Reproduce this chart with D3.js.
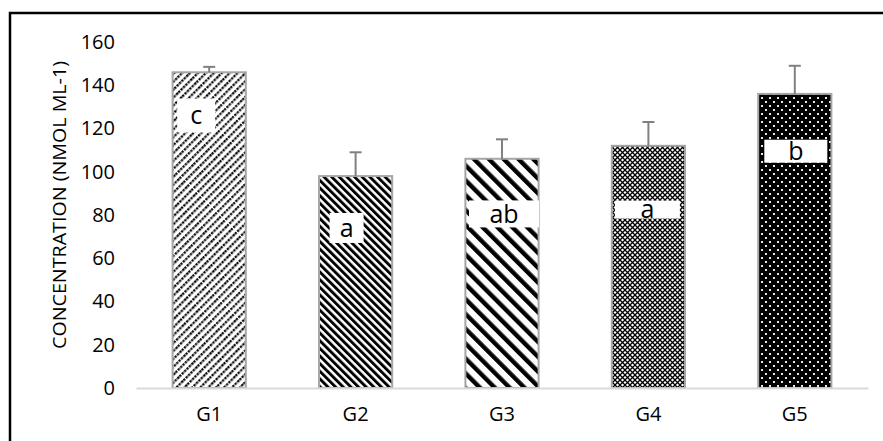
<!DOCTYPE html>
<html>
<head>
<meta charset="utf-8">
<script src="https://cdn.jsdelivr.net/npm/d3@7"></script>
<style>
  html, body { margin: 0; padding: 0; background: #fff; }
  svg { display: block; }
  text { font-family: "Open Sans", "Noto Sans", sans-serif; fill: #000; }
</style>
</head>
<body>
<svg id="chart" width="883" height="441"></svg>
<script>
// Groups and their mean concentrations (nmol/ml) with standard errors
const categories = ["G1", "G2", "G3", "G4", "G5"];
const means = [146, 98, 106, 112, 136];
const errors = [2.5, 11, 9, 11, 13];
// Significance letters and the value at which each letter sits
const letters = ["c", "a", "ab", "a", "b"];
const letterAt = [126, 74, 80.5, 82.5, 109.5];
const yTicks = [0, 20, 40, 60, 80, 100, 120, 140, 160];
const yTitle = "CONCENTRATION (NMOL ML-1)";

// Label box geometry (width, height, horizontal offset from bar centre)
const labelBoxes = [
  { w: 38, h: 34, dx: -13 },
  { w: 34, h: 30, dx: -9 },
  { w: 70, h: 27, dx: 2 },
  { w: 65, h: 18, dx: -1 },
  { w: 63, h: 23, dx: 1 }
];
const patternIds = ["p1", "p2", "p3", "p4", "p5"];

const svg = d3.select("#chart");

// Frame around the whole figure
svg.append("rect")
  .attr("x", 10).attr("y", 13)
  .attr("width", 900).attr("height", 460)
  .attr("fill", "none").attr("stroke", "#000").attr("stroke-width", 2.5);

// Fill patterns
const defs = svg.append("defs");

// G1: dotted upward diagonal
const p1 = defs.append("pattern").attr("id", "p1").attr("patternUnits", "userSpaceOnUse")
  .attr("width", 5.6).attr("height", 20).attr("patternTransform", "rotate(45)");
p1.append("rect").attr("width", 5.6).attr("height", 20).attr("fill", "#fff");
p1.append("line").attr("x1", 1.2).attr("y1", 0).attr("x2", 1.2).attr("y2", 20)
  .attr("stroke", "#000").attr("stroke-width", 2.2).attr("stroke-dasharray", "2.4 1");

// G2: dark downward diagonal
const p2 = defs.append("pattern").attr("id", "p2").attr("patternUnits", "userSpaceOnUse")
  .attr("width", 5.4).attr("height", 10).attr("patternTransform", "rotate(-45)");
p2.append("rect").attr("width", 5.4).attr("height", 10).attr("fill", "#fff");
p2.append("rect").attr("x", 0).attr("width", 2.9).attr("height", 10).attr("fill", "#000");

// G3: wide downward diagonal
const p3 = defs.append("pattern").attr("id", "p3").attr("patternUnits", "userSpaceOnUse")
  .attr("width", 10.5).attr("height", 10).attr("patternTransform", "rotate(-45)");
p3.append("rect").attr("width", 10.5).attr("height", 10).attr("fill", "#fff");
p3.append("rect").attr("x", 0).attr("width", 4.4).attr("height", 10).attr("fill", "#000");

// G4: fine trellis
const p4 = defs.append("pattern").attr("id", "p4").attr("patternUnits", "userSpaceOnUse")
  .attr("width", 5).attr("height", 5);
p4.append("rect").attr("width", 5).attr("height", 5).attr("fill", "#fff");
p4.append("path").attr("d", "M0,0L5,5M5,0L0,5")
  .attr("stroke", "#000").attr("stroke-width", 1.3);

// G5: black with white dots
const p5 = defs.append("pattern").attr("id", "p5").attr("patternUnits", "userSpaceOnUse")
  .attr("width", 8).attr("height", 8);
p5.append("rect").attr("width", 8).attr("height", 8).attr("fill", "#000");
p5.append("rect").attr("x", 1).attr("y", 1).attr("width", 2).attr("height", 2).attr("fill", "#e8e8e8");
p5.append("rect").attr("x", 5).attr("y", 5).attr("width", 2).attr("height", 2).attr("fill", "#e8e8e8");

// Scales
const x = d3.scaleBand().domain(categories).range([136, 868]).paddingInner(0.5).paddingOuter(0.25);
const y = d3.scaleLinear().domain([0, 160]).range([388, 42]);

// Y axis labels
const yAxis = svg.append("g").attr("transform", "translate(121,0)")
  .call(d3.axisLeft(y).tickValues(yTicks).tickSize(0).tickPadding(6));
yAxis.select(".domain").remove();
yAxis.selectAll("text").style("font-family", "'Open Sans', sans-serif").style("font-size", "20px").attr("fill", "#000");

// Y title
svg.append("text")
  .attr("transform", "translate(66,205) rotate(-90)")
  .attr("text-anchor", "middle")
  .attr("font-size", 19)
  .attr("textLength", 288).attr("lengthAdjust", "spacingAndGlyphs")
  .text(yTitle);

const data = categories.map((c, i) => ({ c, v: means[i], e: errors[i], l: letters[i], la: letterAt[i], box: labelBoxes[i], p: patternIds[i] }));

// Bars
svg.append("g").selectAll("rect").data(data).join("rect")
  .attr("x", d => x(d.c)).attr("y", d => y(d.v))
  .attr("width", x.bandwidth()).attr("height", d => y(0) - y(d.v))
  .attr("fill", d => `url(#${d.p})`)
  .attr("stroke", "#a6a6a6").attr("stroke-width", 2);

// X axis baseline and labels
const xAxis = svg.append("g").attr("transform", "translate(0,388)")
  .call(d3.axisBottom(x).tickSize(0).tickPadding(19));
xAxis.select(".domain").attr("stroke", "#d9d9d9").attr("stroke-width", 2);
xAxis.selectAll("text").style("font-family", "'Open Sans', sans-serif").style("font-size", "20px").attr("fill", "#000");

// Error bars (upper side)
const err = svg.append("g").attr("stroke", "#808080").attr("stroke-width", 2);
err.selectAll("line.v").data(data).join("line").attr("class", "v")
  .attr("x1", d => x(d.c) + x.bandwidth() / 2).attr("x2", d => x(d.c) + x.bandwidth() / 2)
  .attr("y1", d => y(d.v)).attr("y2", d => y(d.v + d.e));
err.selectAll("line.cap").data(data).join("line").attr("class", "cap")
  .attr("x1", d => x(d.c) + x.bandwidth() / 2 - 6).attr("x2", d => x(d.c) + x.bandwidth() / 2 + 6)
  .attr("y1", d => y(d.v + d.e)).attr("y2", d => y(d.v + d.e));

// Significance letters on white boxes
const lab = svg.append("g").selectAll("g").data(data).join("g")
  .attr("transform", d => `translate(${x(d.c) + x.bandwidth() / 2 + d.box.dx},${y(d.la)})`);
lab.append("rect")
  .attr("x", d => -d.box.w / 2).attr("y", d => -d.box.h / 2)
  .attr("width", d => d.box.w).attr("height", d => d.box.h)
  .attr("fill", "#fff");
lab.append("text")
  .attr("text-anchor", "middle").attr("dy", "0.35em")
  .attr("font-size", 25)
  .text(d => d.l);
</script>
</body>
</html>
